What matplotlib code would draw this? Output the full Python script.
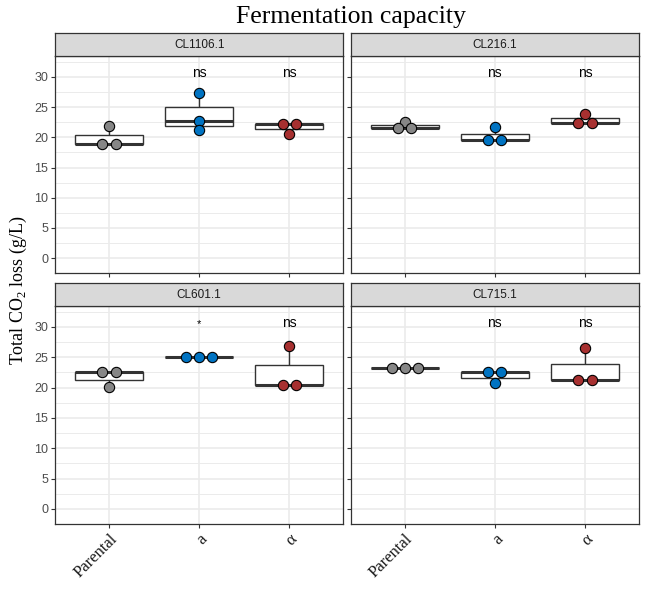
import numpy as np
import matplotlib.pyplot as plt
from matplotlib.patches import Rectangle

plt.rcParams['mathtext.fontset'] = 'custom'
plt.rcParams['mathtext.rm'] = 'Liberation Serif'

panels = ['CL1106.1', 'CL216.1', 'CL601.1', 'CL715.1']
groups = ['Parental', 'a', 'α']
colors = ['#868686', '#0073C2', '#A73030']

# measured CO2 loss (g/L), three replicates per group
values = {
    'CL1106.1': [[18.9, 18.9, 21.8], [27.4, 22.7, 21.2], [22.2, 22.2, 20.5]],
    'CL216.1': [[22.6, 21.6, 21.6], [21.7, 19.5, 19.5], [23.9, 22.4, 22.4]],
    'CL601.1': [[22.55, 22.55, 20.1], [25.1, 25.1, 25.1], [26.85, 20.5, 20.5]],
    'CL715.1': [[23.3, 23.3, 23.3], [22.6, 22.6, 20.7], [26.5, 21.2, 21.2]],
}
signif = {
    'CL1106.1': ['', 'ns', 'ns'],
    'CL216.1': ['', 'ns', 'ns'],
    'CL601.1': ['', '*', 'ns'],
    'CL715.1': ['', 'ns', 'ns'],
}
label_y = 30

fig = plt.figure(figsize=(6.46, 5.91), dpi=100)

W, H = 646, 591
boxes = [(55, 55.7, 343.3, 273.3), (350.7, 55.7, 639, 273.3),
         (55, 305.7, 343.3, 524), (350.7, 305.7, 639, 524)]
strip_h = 22.4
edge = '#333333'

for k, name in enumerate(panels):
    x0, y0, x1, y1 = boxes[k]
    ax = fig.add_axes([x0 / W, 1 - y1 / H, (x1 - x0) / W, (y1 - y0) / H])
    ax.set_xlim(-0.6, 2.6)
    ax.set_ylim(-1.33, 33.5)
    ax.set_yticks(np.arange(0, 31, 5))
    ax.set_yticks(np.arange(-2.5, 34, 5), minor=True)
    ax.set_xticks(range(3))
    ax.grid(True, which='major', color='#EBEBEB', lw=1.2, zorder=0)
    ax.grid(True, which='minor', axis='y', color='#EBEBEB', lw=0.7, zorder=0)
    ax.set_axisbelow(True)
    for s in ax.spines.values():
        s.set_color(edge)
        s.set_linewidth(0.9)
    ax.tick_params(axis='both', which='major', length=3, color=edge, width=0.8,
                   labelsize=9, labelcolor='#4D4D4D', pad=2)
    ax.tick_params(which='minor', length=0)

    if k % 2 == 0:
        ax.set_yticklabels([str(v) for v in range(0, 31, 5)],
                           family='Liberation Sans')
    else:
        ax.set_yticklabels([])
    if k >= 2:
        ax.set_xticklabels(groups, family='Liberation Serif', fontsize=12,
                           color='#1A1A1A', rotation=45, ha='right',
                           rotation_mode='anchor')
    else:
        ax.set_xticklabels([])

    for g, vals in enumerate(values[name]):
        v = np.array(vals)
        q1, med, q3 = np.percentile(v, [25, 50, 75])
        iqr = q3 - q1
        lo = v[v >= q1 - 1.5 * iqr].min()
        hi = v[v <= q3 + 1.5 * iqr].max()
        ax.add_patch(Rectangle((g - 0.375, q1), 0.75, q3 - q1, fc='white',
                               ec=edge, lw=1.0, zorder=2))
        ax.plot([g, g], [q3, hi], color=edge, lw=1.0, zorder=1.5)
        ax.plot([g, g], [lo, q1], color=edge, lw=1.0, zorder=1.5)
        ax.plot([g - 0.375, g + 0.375], [med, med], color=edge, lw=2.2,
                zorder=2.5, solid_capstyle='butt')
        # spread equal values side by side, like a centered dot plot
        xs = np.zeros(len(v))
        for val in np.unique(v):
            idx = np.where(v == val)[0]
            n = len(idx)
            xs[idx] = (np.arange(n) - (n - 1) / 2) * 0.147
        ax.scatter(g + xs, v, s=55, c=colors[g], edgecolors='black',
                   linewidths=0.8, zorder=3)
        if signif[name][g]:
            ax.text(g, label_y, signif[name][g], ha='center', va='baseline',
                    fontsize=10 if signif[name][g] == 'ns' else 8,
                    family='Liberation Sans', color='black')

    sax = fig.add_axes([x0 / W, 1 - y0 / H, (x1 - x0) / W, strip_h / H])
    sax.set_xticks([])
    sax.set_yticks([])
    sax.set_facecolor('#D9D9D9')
    for s in sax.spines.values():
        s.set_color(edge)
        s.set_linewidth(0.9)
    sax.text(0.5, 0.5, name, ha='center', va='center', fontsize=8.5,
             family='Liberation Sans', color='#1A1A1A',
             transform=sax.transAxes)

fig.text(351 / W, 1 - 17 / H, 'Fermentation capacity', ha='center',
         va='center', fontsize=18.5, family='Liberation Serif')
fig.text(18 / W, 1 - 290 / H, r'Total CO$_{\mathrm{2}}$ loss (g/L)',
         rotation=90, ha='center', va='center', fontsize=13,
         family='Liberation Serif')

fig.savefig('out.png', dpi=100)
